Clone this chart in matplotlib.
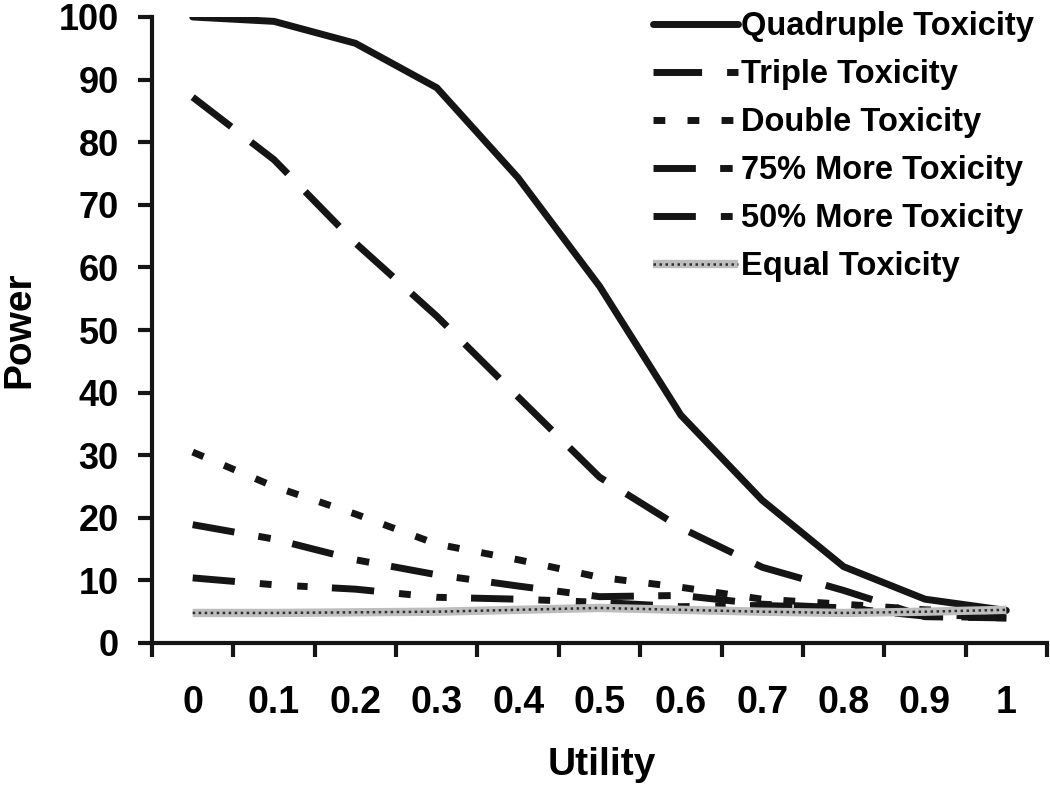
import numpy as np
import matplotlib
matplotlib.use('Agg')
import matplotlib.pyplot as plt

utility = ['0', '0.1', '0.2', '0.3', '0.4', '0.5', '0.6', '0.7', '0.8', '0.9', '1']
quadruple = [100, 99.3, 95.8, 88.7, 74.3, 57.0, 36.4, 22.8, 12.2, 7.0, 5.2]
triple = [87.2, 77.2, 63.9, 52.2, 39.3, 26.5, 18.4, 12.1, 8.4, 4.2, 4.0]
double = [30.5, 25.0, 20.6, 15.8, 13.3, 10.5, 8.9, 7.0, 6.2, 5.3, 5.0]
more75 = [18.9, 16.6, 13.3, 10.9, 9.1, 7.4, 7.6, 6.2, 5.6, 4.3, 4.0]
more50 = [10.4, 9.3, 8.6, 7.3, 7.0, 6.5, 5.8, 6.0, 5.6, 4.5, 4.2]
equal = [4.8, 4.8, 4.9, 5.0, 5.3, 5.6, 5.3, 5.0, 4.8, 5.0, 5.3]

plt.rcParams['font.family'] = 'Liberation Sans'
plt.rcParams['font.weight'] = 'bold'

fig = plt.figure(figsize=(10.5, 7.89), dpi=100)
ax = fig.add_axes([152/1050, 1-643/789, 895/1050, 626/789])

x = np.arange(len(utility))
ink = '#151515'
lw = 5.0

l1, = ax.plot(x, quadruple, color=ink, lw=lw, solid_capstyle='round', label='Quadruple Toxicity')
l2, = ax.plot(x, triple, color=ink, lw=lw, dashes=(7, 3.6), label='Triple Toxicity')
l3, = ax.plot(x, double, color=ink, lw=lw, dashes=(1.7, 3.2), label='Double Toxicity')
l4, = ax.plot(x, more75, color=ink, lw=lw, dashes=(6.1, 3.5, 1.8, 3.2), label='75% More Toxicity')
l5, = ax.plot(x, more50, color=ink, lw=lw, dashes=(6.1, 3.6, 1.7, 3.7, 1.5, 3.5), label='50% More Toxicity')
e1, = ax.plot(x, equal, color='#bdbdbd', lw=6, solid_capstyle='butt')
e2, = ax.plot(x, equal, color='#2e2e2e', lw=1.8, dashes=(1, 1.4))

ax.set_xlim(-0.5, 10.5)
ax.set_ylim(0, 100)
ax.set_yticks(np.arange(0, 101, 10))
ax.set_xticks(x)
ax.set_xticklabels(utility, fontsize=27)
ax.set_xticks(np.arange(-0.5, 10.6, 1), minor=True)
ax.tick_params(axis='x', which='major', length=0, pad=30)
ax.tick_params(axis='x', which='minor', length=10, width=3, color=ink, direction='out')
ax.tick_params(axis='y', length=10, width=3, color=ink, direction='out', pad=14, labelsize=26)

for s in ['top', 'right']:
    ax.spines[s].set_visible(False)
for s in ['left', 'bottom']:
    ax.spines[s].set_linewidth(3)
    ax.spines[s].set_color(ink)

fig.text(19/1050, 1-330/789, 'Power', rotation=90, ha='center', va='center', fontsize=28)
fig.text(602/1050, 1-765/789, 'Utility', ha='center', va='center', fontsize=28)

ax.legend([l1, l2, l3, l4, l5, (e1, e2)],
          ['Quadruple Toxicity', 'Triple Toxicity', 'Double Toxicity',
           '75% More Toxicity', '50% More Toxicity', 'Equal Toxicity'],
          loc='upper right', bbox_to_anchor=(1.0, 1.03), frameon=False,
          fontsize=23.5, handlelength=2.6, handletextpad=0.1, labelspacing=0.52,
          borderaxespad=0)

fig.savefig('out.png', dpi=100)
